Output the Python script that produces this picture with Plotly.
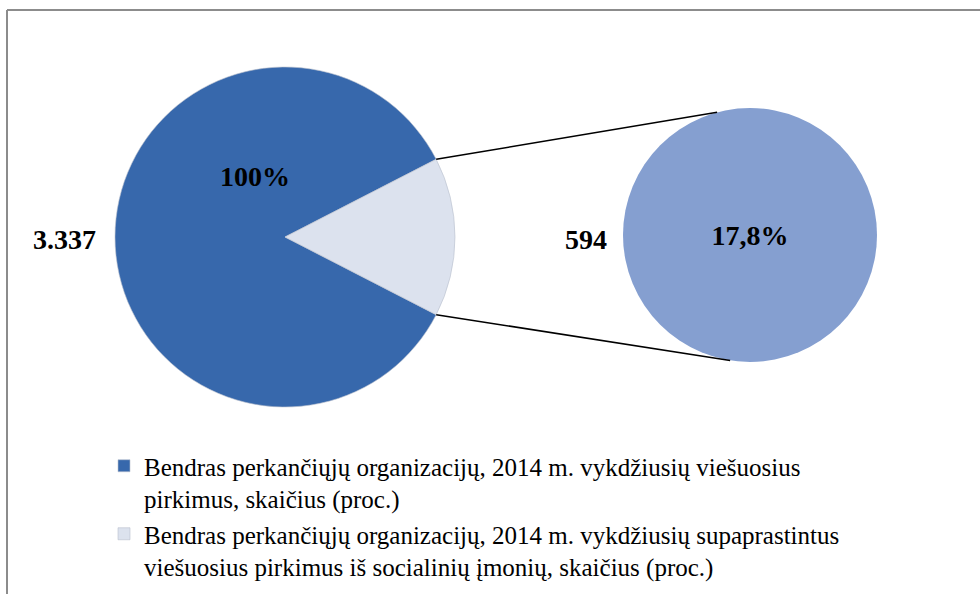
import math
import plotly.graph_objects as go

# ---- data ----
series_names = [
    "Bendras perkančiųjų organizacijų, 2014 m. vykdžiusių viešuosius<br>pirkimus, skaičius (proc.)",
    "Bendras perkančiųjų organizacijų, 2014 m. vykdžiusių supaprastintus<br>viešuosius pirkimus iš socialinių įmonių, skaičius (proc.)",
]
counts = [3337, 594]
count_labels = ["3.337", "594"]
pct_labels = ["100%", "17,8%"]

# ---- styling / geometry ----
W, H = 980, 594
blue = "#3768AC"
light = "#DCE2EE"
second_col = "#859FD0"

cx1, cy1, r1 = 285, 237, 170      # main pie (px)
cx2, cy2, r2 = 750, 235, 127      # secondary pie (px)

def px(x):
    return x / W

def py(y):
    return 1 - y / H

half = 180 * counts[1] / sum(counts)  # half angle of the "other" slice

fig = go.Figure()
fig.add_trace(go.Pie(
    labels=series_names,
    values=counts,
    sort=False,
    direction="clockwise",
    rotation=90 + half,
    marker=dict(colors=[blue, light], line=dict(color="#B8BFCC", width=0.6)),
    textinfo="none",
    hoverinfo="label+value",
    domain=dict(x=[px(cx1 - r1), px(cx1 + r1)], y=[py(cy1 + r1), py(cy1 - r1)]),
    showlegend=True,
))
fig.add_trace(go.Pie(
    labels=["sub"],
    values=[counts[1]],
    sort=False,
    marker=dict(colors=[second_col], line=dict(width=0)),
    text=[pct_labels[1]],
    texttemplate="<b>%{text}</b>",
    textposition="inside",
    insidetextfont=dict(family="Liberation Serif", size=28, color="black"),
    insidetextorientation="horizontal",
    hoverinfo="value",
    domain=dict(x=[px(cx2 - r2), px(cx2 + r2)], y=[py(cy2 + r2), py(cy2 - r2)]),
    showlegend=False,
))

# connector lines computed from the pie geometry
a = math.radians(half)
p_top = (cx1 + r1 * math.cos(a), cy1 - r1 * math.sin(a))
p_bot = (cx1 + r1 * math.cos(a), cy1 + r1 * math.sin(a))
q_top = (cx2 + r2 * math.cos(math.radians(105)), cy2 - r2 * math.sin(math.radians(105)))
q_bot = (cx2 + r2 * math.cos(math.radians(99)), cy2 + r2 * math.sin(math.radians(99)))
shapes = []
for p, q in [(p_top, q_top), (p_bot, q_bot)]:
    shapes.append(dict(type="line", xref="paper", yref="paper",
                       x0=px(p[0]), y0=py(p[1]), x1=px(q[0]), y1=py(q[1]),
                       line=dict(color="black", width=1.5)))
# chart frame
shapes.append(dict(type="line", xref="paper", yref="paper", x0=px(7), y0=py(10), x1=1.0, y1=py(10),
                   line=dict(color="#8C8C8C", width=2)))
shapes.append(dict(type="line", xref="paper", yref="paper", x0=px(7), y0=py(10), x1=px(7), y1=0,
                   line=dict(color="#8C8C8C", width=2)))

lab_font = dict(family="Liberation Serif", size=28, color="black")
annotations = [
    dict(x=px(64), y=py(239), xref="paper", yref="paper", text="<b>%s</b>" % count_labels[0],
         showarrow=False, font=lab_font, xanchor="center", yanchor="middle"),
    dict(x=px(255), y=py(176), xref="paper", yref="paper", text="<b>%s</b>" % pct_labels[0],
         showarrow=False, font=lab_font, xanchor="center", yanchor="middle"),
    dict(x=px(586), y=py(240), xref="paper", yref="paper", text="<b>%s</b>" % count_labels[1],
         showarrow=False, font=lab_font, xanchor="center", yanchor="middle"),
]

fig.update_layout(
    width=W, height=H,
    margin=dict(l=0, r=0, t=0, b=0),
    paper_bgcolor="white",
    plot_bgcolor="white",
    shapes=shapes,
    annotations=annotations,
    legend=dict(
        x=px(104), y=py(443), xanchor="left", yanchor="top",
        font=dict(family="Liberation Serif", size=25, color="black"),
        valign="top", tracegroupgap=0, itemclick=False,
        bgcolor="rgba(0,0,0,0)",
    ),
)

fig.write_html(
    "out.html",
    config={"displayModeBar": False},
    post_script="document.body.style.margin='0';document.body.style.overflow='hidden';",
)
